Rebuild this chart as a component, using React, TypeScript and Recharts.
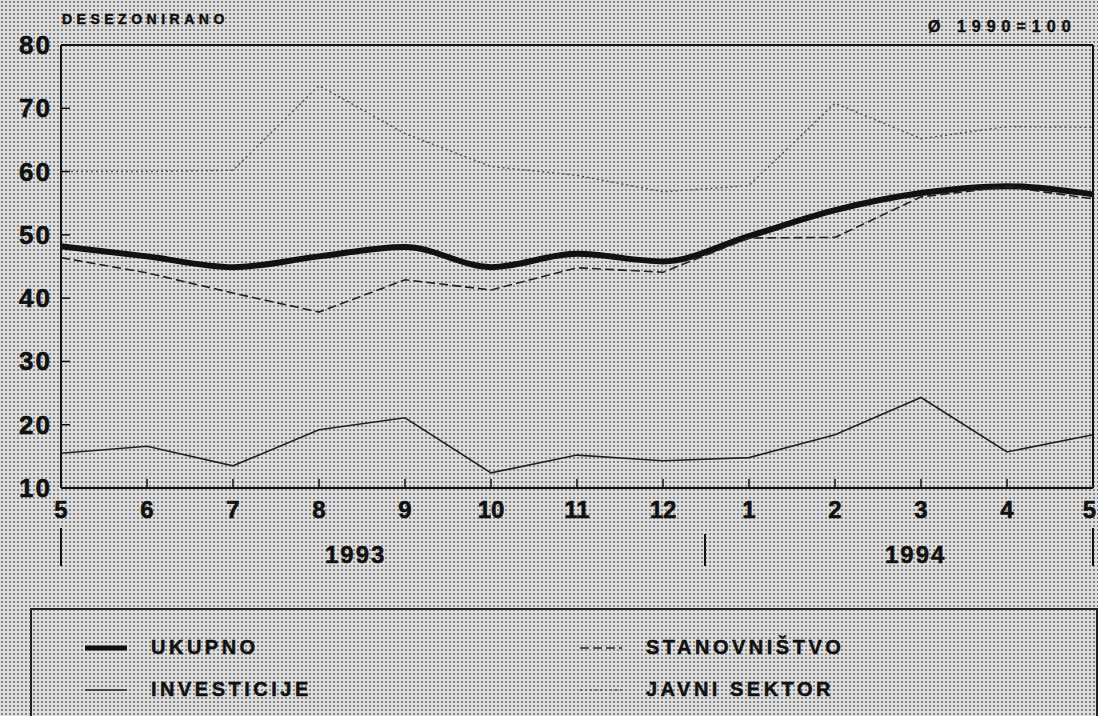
import React from "react";
import { LineChart, Line, XAxis, YAxis, ReferenceLine } from "recharts";

// month labels, May 1993 .. May 1994
const months = ["5", "6", "7", "8", "9", "10", "11", "12", "1", "2", "3", "4", "5"];
const yTicks = [10, 20, 30, 40, 50, 60, 70, 80];

const ukupno = [48.2, 46.6, 44.9, 46.6, 48.1, 44.9, 47.0, 45.8, 49.8, 53.9, 56.6, 57.7, 56.4];
const stanovnistvo = [46.4, 44.0, 40.8, 37.8, 42.9, 41.3, 44.8, 44.1, 49.5, 49.6, 56.0, 57.6, 55.7];
const investicije = [15.5, 16.6, 13.5, 19.2, 21.1, 12.4, 15.2, 14.3, 14.8, 18.4, 24.3, 15.7, 18.4];
const javniSektor = [60.0, 60.0, 60.2, 73.6, 66.0, 60.8, 59.4, 56.8, 57.8, 70.8, 65.2, 67.1, 67.0];

const data = months.map((m, i) => ({
  idx: i,
  month: m,
  ukupno: ukupno[i],
  stanovnistvo: stanovnistvo[i],
  investicije: investicije[i],
  javni: javniSektor[i],
}));

const FONT = "'Liberation Sans', Arial, sans-serif";

const series = [
  { key: "ukupno", name: "UKUPNO", width: 6, dash: undefined, color: "#111", type: "monotone" },
  { key: "investicije", name: "INVESTICIJE", width: 1.6, dash: undefined, color: "#222", type: "linear" },
  { key: "stanovnistvo", name: "STANOVNIŠTVO", width: 1.6, dash: "9 4", color: "#222", type: "linear" },
  { key: "javni", name: "JAVNI SEKTOR", width: 1.4, dash: "2 3", color: "#555", type: "linear" },
];

const XTick = (props: any) => {
  const { x, y, payload } = props;
  const last = payload.value === months.length - 1;
  return (
    <g>
      <line x1={x} x2={x} y1={y} y2={y - 9} stroke="#111" strokeWidth={1.5} />
      <text
        x={last ? x + 3 : x}
        y={y + 30}
        textAnchor={last ? "end" : "middle"}
        fontFamily={FONT}
        fontWeight={700}
        fontSize={24}
        stroke="#111"
        strokeWidth={0.6}
        fill="#111"
      >
        {months[payload.value]}
      </text>
    </g>
  );
};

const YTickLeft = (props: any) => {
  const { x, y, payload } = props;
  return (
    <g>
      <line x1={x} x2={x + 9} y1={y} y2={y} stroke="#111" strokeWidth={1.5} />
      <text
        x={x - 9}
        y={y + 9}
        textAnchor="end"
        fontFamily={FONT}
        fontWeight={700}
        fontSize={26}
        letterSpacing={2}
        stroke="#111"
        strokeWidth={0.6}
        fill="#111"
      >
        {payload.value}
      </text>
    </g>
  );
};

const YTickRight = (props: any) => {
  const { x, y } = props;
  return <line x1={x} x2={x - 7} y1={y} y2={y} stroke="#111" strokeWidth={1.5} />;
};

const LegendSample = ({ s }: { s: (typeof series)[number] }) => (
  <svg width={42} height={12} style={{ display: "block" }}>
    <line x1={0} x2={42} y1={6} y2={6} stroke={s.color} strokeWidth={s.key === "ukupno" ? 5 : 1.6} strokeDasharray={s.dash} />
  </svg>
);

export default function App() {
  const bg = {
    backgroundColor: "#dedede",
    backgroundImage: "radial-gradient(rgba(40,40,40,0.5) 0.9px, transparent 1.2px)",
    backgroundSize: "4px 4px",
  };
  const label = { fontFamily: FONT, fontWeight: 700, color: "#111", WebkitTextStroke: "0.5px #111" } as const;
  return (
    <div style={{ position: "absolute", left: 0, top: 0, width: 1098, height: 716, overflow: "hidden", ...bg }}>
      <div style={{ ...label, position: "absolute", left: 62, top: 11, fontSize: 14, letterSpacing: 4.5 }}>DESEZONIRANO</div>
      <div style={{ ...label, position: "absolute", left: 928, top: 18, fontSize: 16, letterSpacing: 6 }}>Ø 1990=100</div>

      <LineChart width={1098} height={716} data={data} margin={{ top: 45, right: 0, left: 0, bottom: 188 }}>
        <XAxis
          dataKey="idx"
          type="category"
          height={40}
          tickSize={0}
          tickMargin={0}
          tickLine={false}
          tick={<XTick />}
          axisLine={{ stroke: "#111", strokeWidth: 2 }}
          interval={0}
        />
        <YAxis
          yAxisId="left"
          domain={[10, 80]}
          ticks={yTicks}
          width={61}
          tickSize={0}
          tickMargin={0}
          tickLine={false}
          tick={<YTickLeft />}
          axisLine={{ stroke: "#111", strokeWidth: 2 }}
          allowDataOverflow
        />
        <YAxis
          yAxisId="right"
          orientation="right"
          domain={[10, 80]}
          ticks={yTicks}
          width={5}
          tickSize={0}
          tickMargin={0}
          tickLine={false}
          tick={<YTickRight />}
          axisLine={{ stroke: "#111", strokeWidth: 2 }}
        />
        <ReferenceLine yAxisId="left" y={80} stroke="#111" strokeWidth={2} />
        {series.map((s) => (
          <Line
            key={s.key}
            yAxisId="left"
            dataKey={s.key}
            name={s.name}
            type={s.type as any}
            stroke={s.color}
            strokeWidth={s.width}
            strokeDasharray={s.dash}
            dot={false}
            activeDot={false}
            isAnimationActive={false}
          />
        ))}
      </LineChart>

      {/* year markers under the month axis */}
      <div style={{ position: "absolute", left: 60, top: 528, width: 2, height: 38, background: "#111" }} />
      <div style={{ position: "absolute", left: 704, top: 534, width: 2, height: 32, background: "#111" }} />
      <div style={{ position: "absolute", left: 1092, top: 528, width: 2, height: 38, background: "#111" }} />
      <div style={{ ...label, position: "absolute", left: 325, top: 541, fontSize: 24, letterSpacing: 2 }}>1993</div>
      <div style={{ ...label, position: "absolute", left: 885, top: 541, fontSize: 24, letterSpacing: 2 }}>1994</div>

      {/* legend box */}
      <div style={{ position: "absolute", left: 30, top: 608, width: 1064, height: 140, border: "2px solid #222" }}>
        {series.map((s, i) => {
          const col = i === 0 || i === 1 ? 0 : 1;
          const row = i === 0 || i === 2 ? 0 : 1;
          return (
            <div
              key={s.key}
              style={{
                position: "absolute",
                left: col === 0 ? 53 : 548,
                top: row === 0 ? 26 : 68,
                display: "flex",
                alignItems: "center",
                gap: 24,
              }}
            >
              <LegendSample s={s} />
              <span style={{ ...label, fontSize: 20, letterSpacing: 3.5 }}>{s.name}</span>
            </div>
          );
        })}
      </div>
    </div>
  );
}
